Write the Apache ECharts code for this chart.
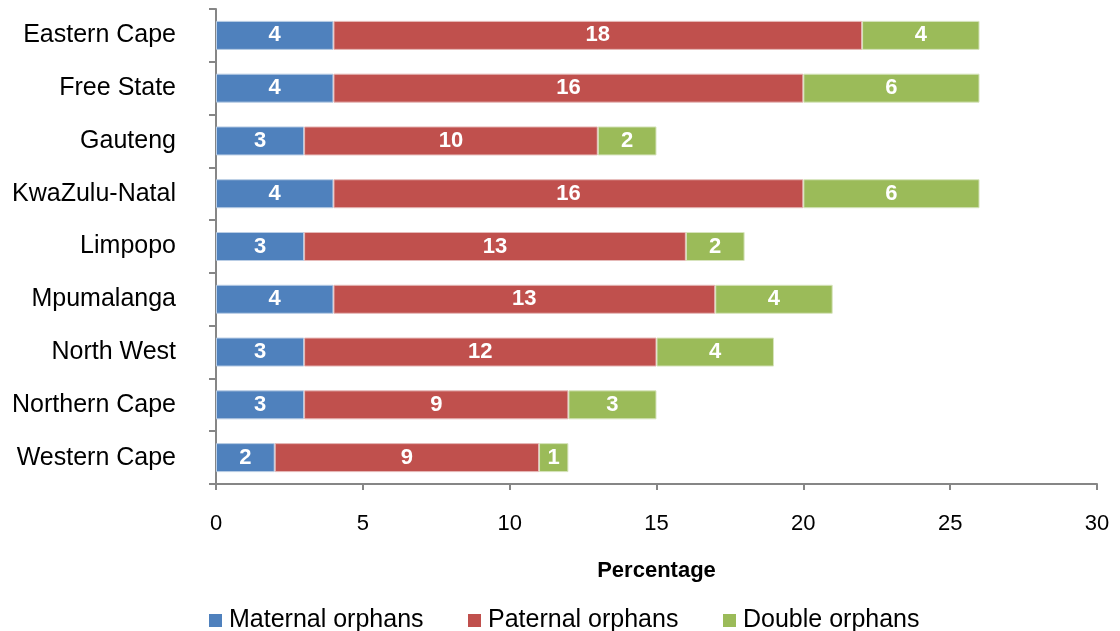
<!DOCTYPE html>
<html><head><meta charset="utf-8">
<script src="https://cdn.jsdelivr.net/npm/echarts@6/dist/echarts.min.js"></script>
<style>html,body{margin:0;padding:0;background:#fff}#c{width:1120px;height:631px}</style>
</head><body><div id="c"></div>
<script>
const categories = ["Eastern Cape","Free State","Gauteng","KwaZulu-Natal","Limpopo","Mpumalanga","North West","Northern Cape","Western Cape"];
const maternal = [4,4,3,4,3,4,3,3,2];
const paternal = [18,16,10,16,13,13,12,9,9];
const double = [4,6,2,6,2,4,4,3,1];
const seriesNames = ["Maternal orphans","Paternal orphans","Double orphans"];
const xTicks = [0,5,10,15,20,25,30];

const colors = ["#4F81BD","#C0504D","#9BBB59"];
const borders = ["#B9CDE5","#E6B9B8","#D7E4BD"];
const font = "Liberation Sans, Arial, sans-serif";
const chart = echarts.init(document.getElementById('c'));
const mk = (name, data, i) => ({
  name, type: 'bar', stack: 's', data, barWidth: 29,
  itemStyle: { color: colors[i], borderColor: borders[i], borderWidth: 1 },
  label: { show: true, position: 'inside', color: '#fff', fontWeight: 'bold', fontSize: 22, fontFamily: font },
  emphasis: { disabled: true }
});
const legendPos = [204, 463, 718];
chart.setOption({
  animation: false,
  grid: { left: 216, right: 23, top: 9, bottom: 147 },
  legend: seriesNames.map((n, i) => ({
    data: [n], left: legendPos[i], top: 603, itemWidth: 13, itemHeight: 13, itemGap: 0,
    icon: 'rect', itemStyle: { borderWidth: 0 },
    textStyle: { fontSize: 25, fontFamily: font, color: '#000', padding: [0,0,0,2] }
  })),
  xAxis: {
    type: 'value', min: xTicks[0], max: xTicks[xTicks.length-1], interval: 5,
    name: 'Percentage', nameLocation: 'middle', nameGap: 76,
    nameTextStyle: { fontSize: 22, fontWeight: 'bold', fontFamily: font, color: '#000' },
    axisLine: { show: true, lineStyle: { color: '#868686', width: 2 } },
    axisTick: { show: true, length: 6, lineStyle: { color: '#868686', width: 2 } },
    axisLabel: { fontSize: 22, fontFamily: font, color: '#000', margin: 29 },
    splitLine: { show: false }
  },
  yAxis: {
    type: 'category', data: categories, inverse: true,
    axisLine: { show: true, lineStyle: { color: '#868686', width: 2 } },
    axisTick: { show: true, length: 7, inside: false, lineStyle: { color: '#868686', width: 2 } },
    axisLabel: { fontSize: 25, fontFamily: font, color: '#000', margin: 40 }
  },
  series: [mk(seriesNames[0], maternal, 0), mk(seriesNames[1], paternal, 1), mk(seriesNames[2], double, 2)]
});
</script></body></html>
